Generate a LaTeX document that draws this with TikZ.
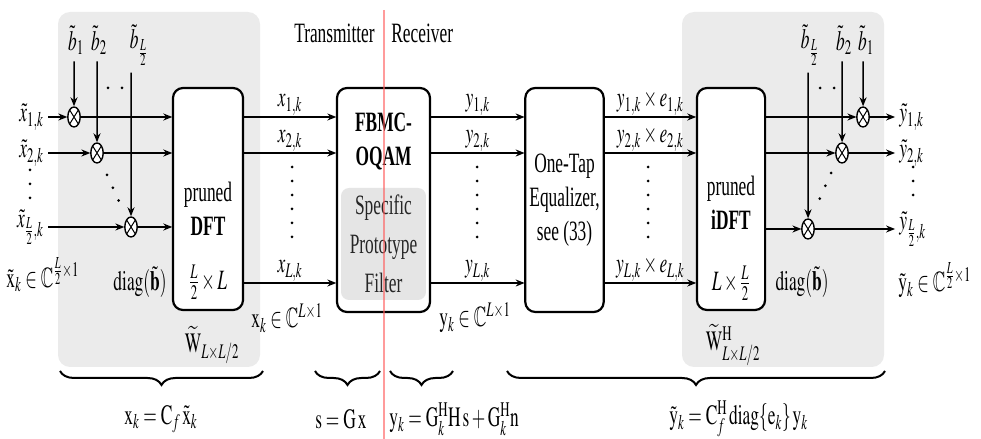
\documentclass[tikz,border=0pt]{standalone}
\usepackage{amsmath,amssymb}
\usepackage{mathptmx}
\usepackage{fontspec}
\setmainfont{Liberation Serif}
\usepackage{tikz}
\usetikzlibrary{arrows.meta,decorations.pathreplacing}

\begin{document}
\begin{tikzpicture}[x=0.8065pt,y=-0.5pt,xscale=0.62,
  font=\fontsize{14pt}{17pt}\selectfont,
  every node/.append style={transform shape,align=center},
  blk/.style={draw,line width=1.1pt,rounded corners=5pt,fill=white,minimum height=111pt},
  mul/.style={circle,draw,line width=0.7pt,minimum size=10pt,inner sep=0pt,fill=white,
    path picture={\draw[line width=0.5pt] (path picture bounding box.north west) -- (path picture bounding box.south east)
      (path picture bounding box.north east) -- (path picture bounding box.south west);}},
  sig/.style={-{Stealth[length=4.5pt,width=3.5pt]},line width=0.75pt},
  dts/.style={line width=1.5pt,line cap=round,dash pattern=on 0pt off 7pt},
  brc/.style={decorate,decoration={brace,mirror,amplitude=7pt},line width=1pt}]
\useasboundingbox (0,0) rectangle (981,439);
% grey panels
\fill[black!8,rounded corners=6pt] (58,12) rectangle (260,367);
\fill[black!8,rounded corners=6pt] (682,12) rectangle (884,367);
\coordinate (r1) at (0,117); \coordinate (r2) at (0,153); \coordinate (r3) at (0,283);
% blocks
\node[blk,minimum width=56.5pt] (dft) at (208,199) {};
\node[blk,minimum width=75pt,minimum height=112pt] (fbmc) at (383.5,200) {};
\node[fill=black!10,rounded corners=4pt,minimum width=68.5pt,minimum height=56pt,
  font=\fontsize{14pt}{19.5pt}\selectfont,text=black!85] (pf) at (383.5,244) {Specific\\Prototype\\Filter};
\node[blk,minimum width=61pt,minimum height=112pt] (eq) at (564.5,200) {One-Tap\\Equalizer,\\see (33)};
\node[blk,minimum width=55pt] (idft) at (731,199) {};
\node (dftt) at (208,209) {pruned\\\textbf{DFT}};
\node (dfts) at (208,282) {$\frac{L}{2}\times L$};
\node (fbmct) at (383.5,142) {\textbf{FBMC-}\\\textbf{OQAM}};
\node (idftt) at (731,203) {pruned\\\textbf{iDFT}};
\node (idfts) at (731,283) {$L\times\frac{L}{2}$};
% transmitter side
\node[mul] (lm1) at (74,117) {};
\node[mul] (lm2) at (97,153) {};
\node[mul] (lm3) at (131,227) {};
\node[anchor=east] (xt1) at (48,117) {$\tilde{x}_{1,k}$};
\node[anchor=east] (xt2) at (48,153) {$\tilde{x}_{2,k}$};
\node[anchor=east] (xt3) at (48,227) {$\tilde{x}_{\frac{L}{2},k}$};
\node (lb1) at (76,40) {$\tilde{b}_1$};
\node (lb2) at (99,40) {$\tilde{b}_2$};
\node (lb3) at (139,45) {$\tilde{b}_{\frac{L}{2}}$};
\foreach \i in {1,2,3} {
  \draw[sig] (xt\i) -- (lm\i);
  \draw[sig] (lm\i) -- (dft.west |- lm\i);
  \draw[sig] (lb\i.south -| lm\i) -- (lm\i);
}
\draw[sig] (dft.east |- r1) -- node[above=-3pt] {$x_{1,k}$} (fbmc.west |- r1);
\draw[sig] (dft.east |- r2) -- node[above=-3pt] {$x_{2,k}$} (fbmc.west |- r2);
\draw[sig] (dft.east |- r3) -- node[above=-3pt] {$x_{L,k}$} (fbmc.west |- r3);
\draw[sig] (fbmc.east |- r1) -- node[above=-3pt] {$y_{1,k}$} (eq.west |- r1);
\draw[sig] (fbmc.east |- r2) -- node[above=-3pt] {$y_{2,k}$} (eq.west |- r2);
\draw[sig] (fbmc.east |- r3) -- node[above=-3pt] {$y_{L,k}$} (eq.west |- r3);
\draw[sig] (eq.east |- r1) -- node[above=-3pt] {$y_{1,k}\times e_{1,k}$} (idft.west |- r1);
\draw[sig] (eq.east |- r2) -- node[above=-3pt] {$y_{2,k}\times e_{2,k}$} (idft.west |- r2);
\draw[sig] (eq.east |- r3) -- node[above=-3pt] {$y_{L,k}\times e_{L,k}$} (idft.west |- r3);
% receiver side
\node[mul] (rm1) at (863,117) {};
\node[mul] (rm2) at (842,153) {};
\node[mul] (rm3) at (808,229) {};
\node[anchor=west] (yt1) at (895,117) {$\tilde{y}_{1,k}$};
\node[anchor=west] (yt2) at (895,153) {$\tilde{y}_{2,k}$};
\node[anchor=west] (yt3) at (895,229) {$\tilde{y}_{\frac{L}{2},k}$};
\node (rb1) at (866,40) {$\tilde{b}_1$};
\node (rb2) at (844,40) {$\tilde{b}_2$};
\node (rb3) at (810,45) {$\tilde{b}_{\frac{L}{2}}$};
\foreach \i in {1,2,3} {
  \draw[sig] (idft.east |- rm\i) -- (rm\i);
  \draw[sig] (rm\i) -- (yt\i);
  \draw[sig] (rb\i.south -| rm\i) -- (rm\i);
}
% dots
\draw[dts] (30,170) -- (30,212);
\draw[dts] (108,88) -- (124,88);
\draw[dts] (107,175) -- (121,206);
\draw[dts] (292,167) -- (292,243);
\draw[dts] (477,167) -- (477,245);
\draw[dts] (648,167) -- (648,245);
\draw[dts] (820,88) -- (838,88);
\draw[dts] (831,173) -- (817,205);
\draw[dts] (913,167) -- (913,205);
% sets and matrices
\node[anchor=west] (xset) at (2,275) {$\tilde{\mathrm{x}}_k\in\mathbb{C}^{\frac{L}{2}\times 1}$};
\node (ldiag) at (140,282) {$\mathrm{diag}(\tilde{\mathbf{b}})$};
\node (lw) at (212,345) {$\widetilde{\mathrm{W}}_{L\times L/2}$};
\node[anchor=west] (xkset) at (247,318) {$\mathrm{x}_k\in\mathbb{C}^{L\times 1}$};
\node[anchor=west] (ykset) at (435,318) {$\mathrm{y}_k\in\mathbb{C}^{L\times 1}$};
\node (rdiag) at (802,282) {$\mathrm{diag}(\tilde{\mathbf{b}})$};
\node (rw) at (733,345) {$\widetilde{\mathrm{W}}^{\mathrm{H}}_{L\times L/2}$};
\node[anchor=west] (yset) at (894,280) {$\tilde{\mathrm{y}}_k\in\mathbb{C}^{\frac{L}{2}\times 1}$};
% braces
\draw[brc] (60,371) -- (263,371);
\draw[brc] (315,371) -- (380,371);
\draw[brc] (390,371) -- (453,371);
\draw[brc] (507,371) -- (885,371);
\node[anchor=west] (eqx) at (120,419) {$\mathrm{x}_k=\mathrm{C}_f\,\tilde{\mathrm{x}}_k$};
\node[anchor=west] (eqs) at (311,419) {$\mathrm{s}=\mathrm{G}\,\mathrm{x}$};
\node[anchor=west] (eqy) at (385,419) {$\mathrm{y}_k=\mathrm{G}_k^{\mathrm{H}}\mathrm{H}\,\mathrm{s}+\mathrm{G}_k^{\mathrm{H}}\mathrm{n}$};
\node[anchor=west] (eqyt) at (665,419) {$\tilde{\mathrm{y}}_k=\mathrm{C}_f^{\mathrm{H}}\,\mathrm{diag}\{\mathrm{e}_k\}\,\mathrm{y}_k$};
% transmitter / receiver split
\node[anchor=east] (tx) at (379,33) {Transmitter};
\node[anchor=west] (rx) at (387,33) {Receiver};
\draw[red!65,opacity=0.6,line width=1.2pt] (384,10) -- (384,439);
\end{tikzpicture}
\end{document}
